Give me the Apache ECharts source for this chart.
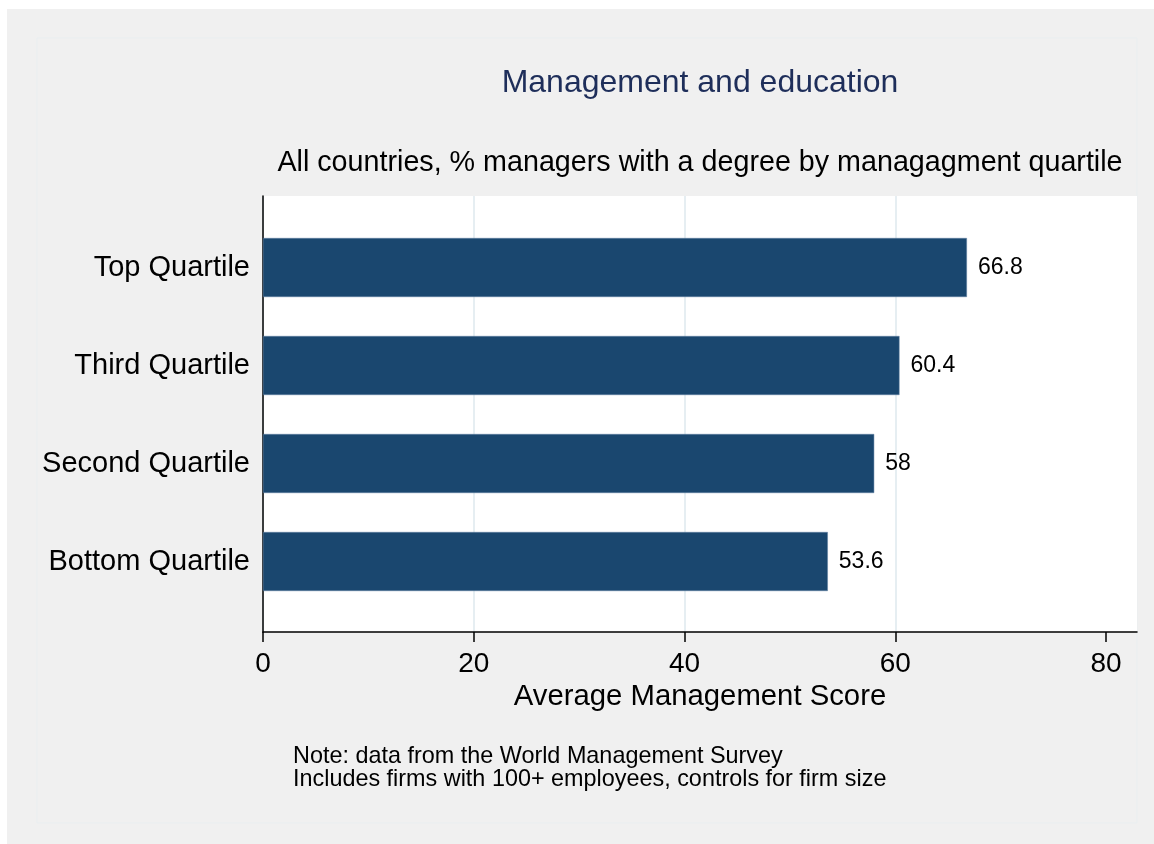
<!DOCTYPE html>
<html>
<head>
<meta charset="utf-8">
<title>Management and education</title>
<script src="https://cdn.jsdelivr.net/npm/echarts@6/dist/echarts.min.js"></script>
<style>
html, body { margin: 0; padding: 0; background: #ffffff; }
#chart { width: 1154px; height: 844px; }
</style>
</head>
<body>
<div id="chart"></div>
<script>
// data, bottom to top as the category axis draws them
var categories = ['Bottom Quartile', 'Second Quartile', 'Third Quartile', 'Top Quartile'];
var scores = [53.6, 58, 60.4, 66.8];
var xTicks = [0, 20, 40, 60, 80];

var FONT = '"Liberation Sans", Arial, Helvetica, sans-serif';
var xMax = 82.94; // plot runs a bit past 80

var chart = echarts.init(document.getElementById('chart'));

var option = {
	animation: false,
	backgroundColor: '#ffffff',
	textStyle: { fontFamily: FONT },
	graphic: [
		{
			type: 'rect', z: -10, silent: true,
			shape: { x: 7, y: 9, width: 1147, height: 835 },
			style: { fill: '#f0f0f0' }
		},
		{
			type: 'rect', z: -9, silent: true,
			shape: { x: 37, y: 38, width: 1100, height: 785 },
			style: { fill: 'none', stroke: '#e9eef0', lineWidth: 1 }
		},
		{
			type: 'text', x: 700, y: 83,
			style: { text: 'Management and education', fill: '#1e2e5a', font: '32px ' + FONT, textAlign: 'center', textVerticalAlign: 'middle' }
		},
		{
			type: 'text', x: 700, y: 163,
			style: { text: 'All countries, % managers with a degree by managagment quartile', fill: '#000000', font: '28.7px ' + FONT, textAlign: 'center', textVerticalAlign: 'middle' }
		},
		{
			type: 'text', x: 293, y: 757,
			style: { text: 'Note: data from the World Management Survey', fill: '#000000', font: '23.4px ' + FONT, textAlign: 'left', textVerticalAlign: 'middle' }
		},
		{
			type: 'text', x: 293, y: 780,
			style: { text: 'Includes firms with 100+ employees, controls for firm size', fill: '#000000', font: '23.4px ' + FONT, textAlign: 'left', textVerticalAlign: 'middle' }
		}
	],
	grid: [
		{
			left: 263, top: 196, width: 874, height: 436,
			show: true, backgroundColor: '#ffffff', borderWidth: 0
		},
		{
			left: 263, top: 218.5, width: 874, height: 392,
			show: false
		}
	],
	xAxis: [
		{
			gridIndex: 0, type: 'value', min: 0, max: xMax,
			axisLine: { show: true, lineStyle: { color: '#000000', width: 1.5 } },
			axisTick: { show: true, length: 10, customValues: xTicks, lineStyle: { color: '#000000', width: 1.5 } },
			axisLabel: { customValues: xTicks, color: '#000000', fontSize: 28, margin: 18, fontFamily: FONT },
			splitLine: { show: true, lineStyle: { color: ['#e6eef2', '#e6eef2', '#e6eef2', '#e6eef2', '#ffffff'], width: 2 } },
			name: 'Average Management Score',
			nameLocation: 'middle',
			nameGap: 49,
			nameTextStyle: { color: '#000000', fontSize: 29.3, fontFamily: FONT }
		},
		{
			gridIndex: 1, type: 'value', min: 0, max: xMax, show: false
		}
	],
	yAxis: [
		{
			gridIndex: 0, type: 'value', min: 0, max: 1,
			axisLine: { show: true, lineStyle: { color: '#000000', width: 1.5 } },
			axisTick: { show: false },
			axisLabel: { show: false },
			splitLine: { show: false }
		},
		{
			gridIndex: 1, type: 'category', data: categories,
			axisLine: { show: false },
			axisTick: { show: false },
			axisLabel: { color: '#000000', fontSize: 29, margin: 13, padding: [6, 0, 0, 0], fontFamily: FONT },
			splitLine: { show: false }
		}
	],
	series: [
		{
			name: 'score',
			type: 'bar',
			xAxisIndex: 1,
			yAxisIndex: 1,
			data: scores,
			barWidth: 59,
			itemStyle: { color: '#1a476f', borderColor: '#5e7fa0', borderWidth: 0.5 },
			label: {
				show: true,
				position: 'right',
				distance: 11,
				color: '#000000',
				fontSize: 23,
				padding: [5, 0, 0, 0],
				fontFamily: FONT
			}
		}
	]
};

chart.setOption(option);
</script>
</body>
</html>
